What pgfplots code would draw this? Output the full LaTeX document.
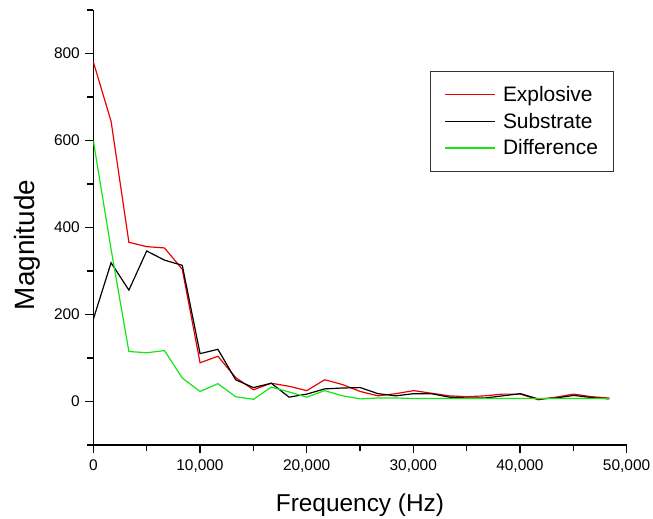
\documentclass[border=0pt]{standalone}
\usepackage{fontspec}
\setmainfont{Liberation Sans}
\usepackage{pgfplots}
\usepackage{pgfplotstable}
\pgfplotsset{compat=1.18}
\definecolor{myred}{RGB}{235,0,0}
\definecolor{mygreen}{RGB}{20,230,20}
\pgfplotstableread{
x       exp   sub   dif
0       781   189   600
1668.5  644   319   350
3337    366   256   115
5005.5  356   346   112
6674    353   325   117
8342.5  304   313   54
10011   89    110   23
11679.5 104   120   41
13348   55    50    11
15016.5 27    32    5
16685   42    42    33
18353.5 35    10    22
20022   25    17    10
21690.5 50    29    25
23359   39    31    13
25027.5 23    32    6
26696   13    18    8
28364.5 18    13    8
30033   25    18    7
31701.5 19    18    7
33370   13    10    7
35038.5 11    8     7
36707   13    8     7
38375.5 17    13    7
40044   17    18    7
41712.5 4     6     7
43381   10    8     7
45049.5 17    14    7
46718   11    9     7
48386.5 8     6     7
}\data
\newcommand\tickfont{\fontsize{15.5}{16}\selectfont}
\begin{document}
\begin{tikzpicture}
\useasboundingbox (-93.3bp,-74bp) rectangle (559.7bp,445bp);
\begin{axis}[
  scale only axis,
  width=533.3bp, height=435bp,
  xmin=0, xmax=50000, ymin=-100, ymax=900,
  axis x line*=bottom, axis y line*=left,
  axis line style={line width=1.3pt, -},
  xtick={0,10000,20000,30000,40000,50000},
  minor xtick={5000,15000,25000,35000,45000},
  ytick={0,200,400,600,800},
  minor ytick={-100,100,300,500,700,900},
  tick align=outside,
  major tick length=8bp, minor tick length=6bp,
  tick style={line width=1.3pt, black},
  scaled x ticks=false,
  xticklabel={\tickfont\pgfmathprintnumber[assume math mode=true,1000 sep={,}]{\tick}},
  yticklabel={\tickfont\pgfmathprintnumber[assume math mode=true]{\tick}},
  xticklabel style={yshift=-3bp},
  yticklabel style={xshift=-2bp},
  xlabel={Frequency (Hz)},
  ylabel={Magnitude},
  every axis x label/.style={at={(axis description cs:0.5,0)}, anchor=north, yshift=-45bp,
    font=\fontsize{24.5}{26}\selectfont},
  every axis y label/.style={at={(axis description cs:-0.1243,0.4598)}, anchor=center, rotate=90,
    font=\fontsize{28}{30}\selectfont},
  legend style={at={(rel axis cs:0.631,0.86)}, anchor=north west, draw=black!80, line width=1pt,
    font=\fontsize{21}{21}\selectfont, inner xsep=14bp, inner ysep=13bp, row sep=6bp, column sep=5.5bp,
    nodes={inner sep=2bp}},
  legend cell align=left,
  legend image code/.code={\draw[#1, line width=1.2pt] (0bp,0bp) -- (50bp,0bp);},
]
\addplot[myred, line width=1.2pt] table[x=x,y=exp] {\data};
\addlegendentry{Explosive}
\addplot[black, line width=1.2pt] table[x=x,y=sub] {\data};
\addlegendentry{Substrate}
\addplot[mygreen, line width=1.2pt] table[x=x,y=dif] {\data};
\addlegendentry{Difference}
\end{axis}
\end{tikzpicture}
\end{document}
